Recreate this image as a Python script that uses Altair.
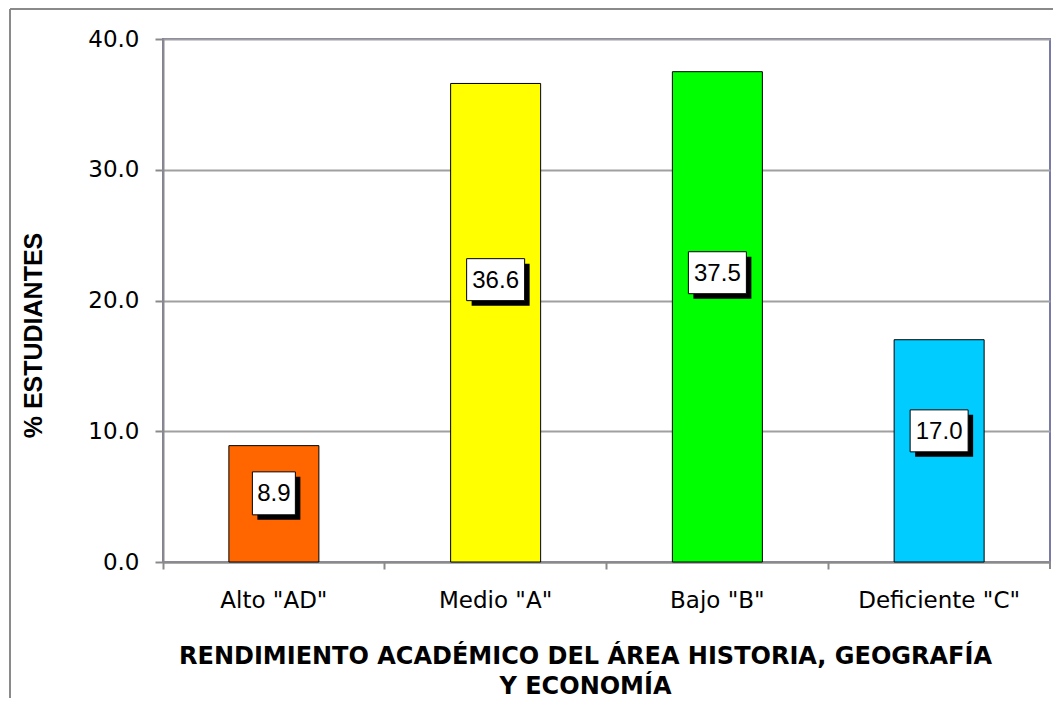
import altair as alt
import pandas as pd

categories = ['Alto "AD"', 'Medio "A"', 'Bajo "B"', 'Deficiente "C"']
values = [8.9, 36.6, 37.5, 17.0]
colors = ["#FF6600", "#FFFF00", "#00FF00", "#00CCFF"]
y_ticks = [0, 10, 20, 30, 40]

df = pd.DataFrame({"cat": categories, "value": values})

W, H = 887, 523
SQUARE = "M-0.741,-0.741L0.741,-0.741L0.741,0.741L-0.741,0.741Z"
WIDE = "M-1,-0.724L1,-0.724L1,0.724L-1,0.724Z"

xscale = alt.Scale(domain=categories, paddingInner=0, paddingOuter=0)
yscale = alt.Scale(domain=[0, 40], nice=False)

y_axis = alt.Axis(values=y_ticks, format=".1f", tickSize=8, tickColor="#8a8a8a",
                  tickWidth=2, labelPadding=16, labelFont="DejaVu Sans",
                  labelFontSize=23, labelColor="black", domainColor="#8a8a8a",
                  domainWidth=2, grid=True, gridColor="#a0a0a0", gridWidth=2,
                  title="% ESTUDIANTES", titleFont="Liberation Sans",
                  titleFontSize=25, titleFontWeight="bold", titleColor="black",
                  titleAngle=270, titleX=-130, titleY=296, titleAlign="center",
                  titleBaseline="middle")

bars = alt.Chart().mark_bar(width=90, stroke="black", strokeWidth=1).encode(
    x=alt.X("cat:N", sort=categories, scale=xscale,
            axis=alt.Axis(orient="bottom", ticks=False, tickSize=0, labelPadding=27,
                          labelAngle=0, labelFont="DejaVu Sans", labelFontSize=23,
                          labelColor="black", domain=True, domainColor="#8a8a8a",
                          domainWidth=2,
                          title=["RENDIMIENTO ACADÉMICO DEL ÁREA HISTORIA, GEOGRAFÍA",
                                 "Y ECONOMÍA"],
                          titleFont="DejaVu Sans", titleFontSize=24, titleFontWeight="bold",
                          titleColor="black", titleLineHeight=30, titleX=422, titleY=82,
                          titleAlign="center", titleBaseline="top")),
    y=alt.Y("value:Q", scale=yscale, axis=y_axis, title="% ESTUDIANTES"),
    color=alt.Color("cat:N", scale=alt.Scale(domain=categories, range=colors), legend=None),
)

label_base = alt.Chart().transform_calculate(
    labelpos="datum.value * 0.59",
    nchar="'' + length(format(datum.value, '.1f'))",
)

shape_enc = alt.Shape("nchar:N", scale=alt.Scale(domain=["3", "4"], range=[SQUARE, WIDE]),
                      legend=None)

shadow = label_base.mark_point(
    filled=True, fill="black", stroke="black", strokeWidth=0, opacity=1,
    size=3364, xOffset=5, yOffset=5,
).encode(
    x=alt.X("cat:N", sort=categories, scale=xscale,
            axis=alt.Axis(orient="bottom", bandPosition=0, labels=False, ticks=True,
                          tickSize=7, tickColor="#8a8a8a", tickWidth=2, domain=False,
                          title=None)),
    y=alt.Y("labelpos:Q", scale=yscale, axis=y_axis, title="% ESTUDIANTES"),
    shape=shape_enc,
)

box = label_base.mark_point(
    filled=True, fill="white", stroke="black", strokeWidth=1, opacity=1, size=3364,
).encode(
    x=alt.X("cat:N", sort=categories, scale=xscale, axis=None),
    y=alt.Y("labelpos:Q", scale=yscale, axis=y_axis, title="% ESTUDIANTES"),
    shape=shape_enc,
)

text = label_base.mark_text(
    font="Liberation Sans", fontSize=24, color="black", baseline="middle", align="center", dy=1,
).encode(
    x=alt.X("cat:N", sort=categories, scale=xscale, axis=None),
    y=alt.Y("labelpos:Q", scale=yscale, axis=y_axis, title="% ESTUDIANTES"),
    text=alt.Text("value:Q", format=".1f"),
)

frame_top = alt.Chart().mark_rule(color="#8a8a8a", strokeWidth=2).encode(
    x=alt.value(-153), x2=alt.value(W + 10), y=alt.value(-30))
frame_left = alt.Chart().mark_rule(color="#8a8a8a", strokeWidth=2).encode(
    x=alt.value(-153), y=alt.value(-30), y2=alt.value(H + 200))
last_tick = alt.Chart().mark_rule(color="#8a8a8a", strokeWidth=2).encode(
    x=alt.value(W), y=alt.value(H), y2=alt.value(H + 7))

chart = alt.layer(
    bars, shadow, box, text, frame_top, frame_left, last_tick, data=df
).resolve_axis(x="independent").properties(
    width=W, height=H,
    autosize=alt.AutoSizeParams(type="none"),
    padding={"left": 155, "top": 31, "right": 3, "bottom": 136},
    background="white",
).configure_view(stroke="#7a7aa8", strokeWidth=2)

chart.save("out.html", embed_options={"renderer": "svg", "actions": False})
